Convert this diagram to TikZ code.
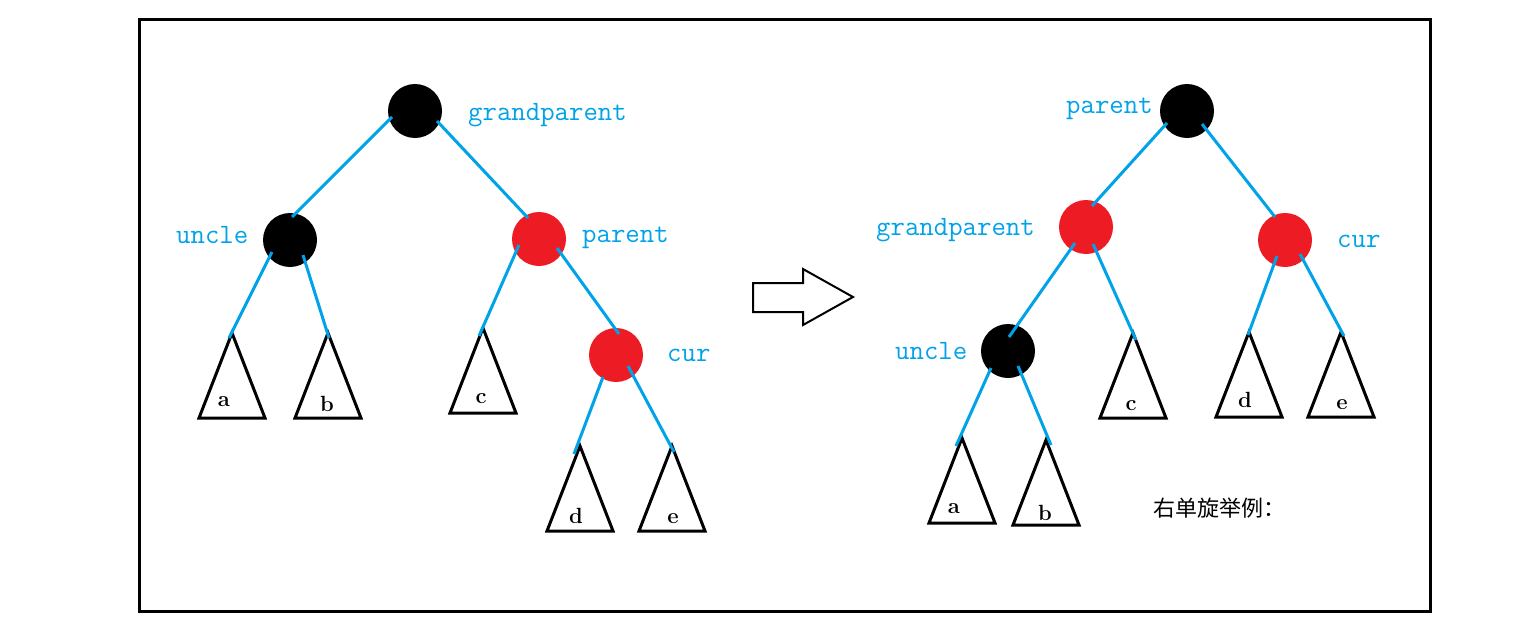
\documentclass[tikz,border=0pt]{standalone}
\usepackage{fontspec}
\newfontfamily\cjk{Noto Sans CJK SC}
\usetikzlibrary{calc}
\definecolor{lblue}{RGB}{0,162,232}
\definecolor{pred}{RGB}{237,28,36}
\tikzset{
 rbnode/.style={circle,minimum size=54pt,inner sep=0pt,fill=#1},
 edge/.style={draw=lblue,line width=3pt},
 tri/.style={draw=black,line width=3pt,line join=miter},
 lbl/.style={anchor=base west,text=lblue,font=\fontsize{28}{30}\ttfamily,inner sep=0pt},
 leaf/.style={font=\fontsize{22}{24}\selectfont\bfseries,inner sep=0pt},
}
\newcommand{\subtree}[1]{\draw[tri] (#1) -- ++(-33,85) -- ++(66,0) -- cycle;}
\begin{document}
\begin{tikzpicture}[x=1pt,y=-1pt]
\useasboundingbox (0,0) rectangle (1521,637);
\draw[line width=3pt] (139,19) rectangle (1430,611);

% ---------- left tree ----------
\coordinate (La) at (232,333);
\coordinate (Lb) at (328,333);
\coordinate (Lc) at (483,328);
\coordinate (Ld) at (580,446);
\coordinate (Le) at (672,446);
\subtree{La}\subtree{Lb}\subtree{Lc}\subtree{Ld}\subtree{Le}
\node[leaf] (Lat) at (224,402) {a};
\node[leaf] (Lbt) at (327,404) {b};
\node[leaf] (Lct) at (481,399) {c};
\node[leaf] (Ldt) at (576,516) {d};
\node[leaf] (Let) at (673,519) {e};

\node[rbnode=black] (Lgp) at (415,111) {};
\node[rbnode=black] (Lun) at (290,240) {};
\node[rbnode=pred]  (Lpa) at (539,239) {};
\node[rbnode=pred]  (Lcu) at (616,355) {};

\draw[edge] ($(Lgp)+(-23,6)$) -- ($(Lun)+(2,-23)$);
\draw[edge] ($(Lgp)+(22,10)$) -- ($(Lpa)+(-11,-21)$);
\draw[edge] ($(Lun)+(-18,12)$) -- ($(La)+(-3,5)$);
\draw[edge] ($(Lun)+(13,15)$) -- ($(Lb)+(1,5)$);
\draw[edge] ($(Lpa)+(-20,6)$) -- ($(Lc)+(-4,8)$);
\draw[edge] ($(Lpa)+(18,9)$) -- ($(Lcu)+(3,-21)$);
\draw[edge] ($(Lcu)+(-13,22)$) -- ($(Ld)+(-6,8)$);
\draw[edge] ($(Lcu)+(12,11)$) -- ($(Le)+(2,6)$);

\node[lbl] (Lgpl) at (468,120) {grandparent};
\node[lbl] (Lunl) at (176,243) {uncle};
\node[lbl] (Lpal) at (582,242) {parent};
\node[lbl] (Lcul) at (667,361) {cur};

% ---------- arrow ----------
\draw[line width=2pt] (753,283) -- (803,283) -- (803,269) -- (853,297)
  -- (803,325) -- (803,312) -- (753,312) -- cycle;

% ---------- right tree ----------
\coordinate (Ra) at (962,438);
\coordinate (Rb) at (1046,440);
\coordinate (Rc) at (1133,333);
\coordinate (Rd) at (1249,332);
\coordinate (Re) at (1341,332);
\subtree{Ra}\subtree{Rb}\subtree{Rc}\subtree{Rd}\subtree{Re}
\node[leaf] (Rat) at (954,509) {a};
\node[leaf] (Rbt) at (1045,513) {b};
\node[leaf] (Rct) at (1131,406) {c};
\node[leaf] (Rdt) at (1245,400) {d};
\node[leaf] (Ret) at (1342,405) {e};

\node[rbnode=black] (Rpa) at (1187,111) {};
\node[rbnode=pred]  (Rgp) at (1086,227) {};
\node[rbnode=pred]  (Rcu) at (1285,240) {};
\node[rbnode=black] (Run) at (1008,351) {};

\draw[edge] ($(Rpa)+(-20,12)$) -- ($(Rgp)+(6,-21)$);
\draw[edge] ($(Rpa)+(15,13)$) -- ($(Rcu)+(-10,-23)$);
\draw[edge] ($(Rgp)+(-11,16)$) -- ($(Run)+(1,-14)$);
\draw[edge] ($(Rgp)+(7,17)$) -- ($(Rc)+(3,7)$);
\draw[edge] ($(Run)+(-17,17)$) -- ($(Ra)+(-6,8)$);
\draw[edge] ($(Run)+(10,15)$) -- ($(Rb)+(5,5)$);
\draw[edge] ($(Rcu)+(-8,16)$) -- ($(Rd)+(-1,3)$);
\draw[edge] ($(Rcu)+(15,14)$) -- ($(Re)+(3,4)$);

\node[lbl] (Rpal) at (1066,113) {parent};
\node[lbl] (Rgpl) at (876,235) {grandparent};
\node[lbl] (Rcul) at (1337,247) {cur};
\node[lbl] (Runl) at (895,359) {uncle};

\node[font=\cjk\fontsize{22}{24}\selectfont,anchor=west,inner sep=0pt] (cap) at (1153,508) {右单旋举例：};
\end{tikzpicture}
\end{document}
